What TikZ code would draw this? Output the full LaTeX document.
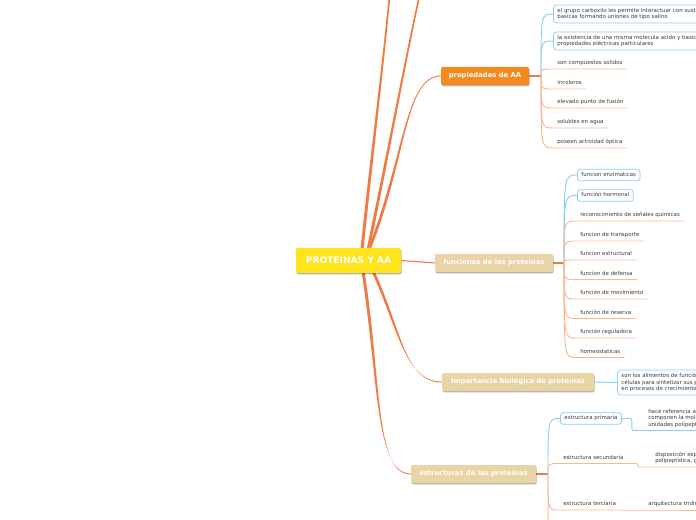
\documentclass[tikz,border=0pt]{standalone}
\usepackage{fontspec}
\setmainfont{DejaVu Sans}
\usetikzlibrary{calc,shadows}
\pgfdeclarelayer{bg}
\pgfsetlayers{bg,main}
\definecolor{yellowc}{HTML}{FFE31B}
\definecolor{orangec}{HTML}{F68A1F}
\definecolor{tanc}{HTML}{E8D4A4}
\definecolor{mainc}{HTML}{F07A42}
\definecolor{peachc}{HTML}{F9B796}
\definecolor{bluec}{HTML}{8ECDF2}
\definecolor{txtc}{HTML}{3A3A3A}
\newcommand\tapercurve[6]{\fill[mainc] ($(#1)+(#5)$) .. controls ($(#2)+(#5)$) and ($(#3)+(#6)$) .. ($(#4)+(#6)$) -- ($(#4)-(#6)$) .. controls ($(#3)-(#6)$) and ($(#2)-(#5)$) .. ($(#1)-(#5)$) -- cycle;}
\newcommand\smallfont{\fontsize{4.1}{5.1}\selectfont}
\begin{document}
\begin{tikzpicture}[x=0.75pt,y=-0.75pt,
  topic/.style={rounded corners=1pt, inner sep=0pt, text=white, font=\fontsize{5.1}{6}\selectfont\bfseries, minimum height=13.5pt, drop shadow={shadow xshift=0.4pt, shadow yshift=-1pt, opacity=0.3, fill=black}},
  leaf/.style={anchor=south west, inner xsep=3pt, inner ysep=2pt, text height=3.2pt, text depth=1pt, font=\smallfont, text=txtc},
  gleaf/.style={anchor=south west, inner xsep=3pt, inner ysep=2pt, align=left, font=\fontsize{4.1}{5}\selectfont, text=txtc},
  bbox/.style={draw=bluec, line width=0.6pt, rounded corners=2pt, fill=white, anchor=west, inner xsep=3pt, inner ysep=2.2pt, text height=3.2pt, text depth=1pt, font=\smallfont, text=txtc},
  mbox/.style={draw=bluec, line width=0.6pt, rounded corners=2.5pt, fill=white, anchor=west, inner xsep=3pt, inner ysep=0pt, align=left, font=\smallfont, text=txtc},
  fanO/.style={draw=peachc, line width=0.7pt},
  fanB/.style={draw=bluec, line width=0.7pt},
  stem/.style={draw=mainc, line width=1.2pt}]
\useasboundingbox (0,0) rectangle (696,520);
\clip (0,0) rectangle (696,520);

% main topics
\node[topic, fill=yellowc, minimum width=78.75pt, minimum height=18.75pt, font=\fontsize{6.8}{8}\selectfont\bfseries] (cen) at (348.5,260.5) {PROTEINAS Y AA};
\node[topic, fill=orangec, minimum width=66pt] (prop) at (485,76) {propiedades de AA};
\node[topic, fill=tanc, minimum width=88.5pt] (func) at (494,263) {funciones de las proteinas};
\node[topic, fill=tanc, minimum width=114pt] (imp) at (518,382) {Importancia biológica de proteínas};
\node[topic, fill=tanc, minimum width=93.75pt] (est) at (473.5,474) {estructuras de las proteinas};

% propiedades children
\node[mbox, minimum height=13.5pt] (pc1) at (553,14) {el grupo carboxilo les permite interactuar con sustancias\\basicas formando uniones de tipo salino};
\node[mbox, minimum height=13.5pt] (pc2) at (553,41) {la existencia de una misma molecula acido y basica da\\propiedades eléctricas particulares};
\node[leaf] (pc3) at (553,69) {son compuestos solidos};
\node[leaf] (pc4) at (553,89) {incoloros};
\node[leaf] (pc5) at (553,108) {elevado punto de fusión};
\node[leaf] (pc6) at (553,128) {solubles en agua};
\node[leaf] (pc7) at (553,148) {poseen actividad óptica};

% funciones children
\node[bbox] (f1) at (577,175) {funcion enzimaticas};
\node[bbox] (f2) at (577,195.5) {función hormonal};
\node[leaf] (f3) at (576,221) {reconocimiento de señales quimicas};
\node[leaf] (f4) at (576,241) {funcion de transporte};
\node[leaf] (f5) at (576,260) {funcion estructural};
\node[leaf] (f6) at (576,279.5) {funcion de defensa};
\node[leaf] (f7) at (576,299) {función de movimiento};
\node[leaf] (f8) at (576,318.5) {función de reserva};
\node[leaf] (f9) at (576,338) {función reguladora};
\node[leaf] (f10) at (576,357.5) {homeostaticas};

% importancia child
\node[mbox, minimum height=18.75pt] (i1) at (617,382.5) {son los alimentos de función plástica que usan las\\células para sintetizar sus propias proteínas\\en procesos de crecimiento y reparación};

% estructuras children
\node[bbox] (e1) at (560,418.5) {estructura primaria};
\node[leaf] (e2) at (559,463.5) {estructura secundaria};
\node[leaf] (e3) at (559,510) {estructura terciaria};
\coordinate (e4) at (566,570);
\node[gleaf] (g1) at (644,430.5) {hace referencia a la secuencia de\\componen la molécula proteica\\unidades polipeptídicas};
\node[gleaf] (g2) at (651,467) {disposición espacial que adopta la\\polipeptídica, gracias a};
\node[gleaf] (g3) at (644,510) {arquitectura tridimensional};

% off-screen children above
\coordinate (upA) at (392,-30);
\coordinate (upB) at (425,-30);

\begin{pgfonlayer}{bg}
  % main connectors
  \coordinate (sA) at ($(cen.north)+(13.5,2)$);
  \coordinate (sB) at ($(cen.north)+(19.5,2)$);
  \coordinate (sP) at ($(cen.north)+(20.5,2)$);
  \coordinate (sI) at ($(cen.south)+(24.5,-2)$);
  \coordinate (sE) at ($(cen.south)+(14.5,-2)$);
  \tapercurve{sA}{370,170}{385,50}{upA}{1.5,0}{0.8,0}
  \tapercurve{sB}{385,170}{405,60}{upB}{1.5,0}{0.8,0}
  \tapercurve{sP}{405,160}{405,76}{prop.west}{1.5,0}{0,0.5}
  \tapercurve{sI}{400,330}{405,382}{imp.west}{1.5,0}{0,0.5}
  \tapercurve{sE}{380,380}{375,474}{est.west}{1.5,0}{0,0.5}
  \draw[mainc, line width=0.8pt] (cen.east) -- (func.west);

  % propiedades fan
  \coordinate (bP) at (541,76);
  \draw[stem] (prop.east) -- (bP);
  \foreach \n in {pc1,pc2} \draw[fanB] (bP) .. controls (bP |- \n.west) .. (\n.west);
  \foreach \n in {pc3,pc4,pc5,pc6,pc7} \draw[fanO] (bP) .. controls (bP |- \n.south west) .. (\n.south west) -- (\n.south east);

  % funciones fan
  \coordinate (bF) at (564,263);
  \draw[stem] (func.east) -- (bF);
  \foreach \n in {f1,f2} \draw[fanB] (bF) .. controls (bF |- \n.west) .. (\n.west);
  \foreach \n in {f3,f4,f5,f6,f7,f8,f9,f10} \draw[fanO] (bF) .. controls (bF |- \n.south west) .. (\n.south west) -- (\n.south east);

  % importancia
  \draw[fanB] (imp.east) -- (i1.west);

  % estructuras fan
  \coordinate (bE) at (548,474);
  \draw[stem] (est.east) -- (bE);
  \draw[fanB] (bE) .. controls (bE |- e1.west) .. (e1.west);
  \foreach \n in {e2,e3} \draw[fanO] (bE) .. controls (bE |- \n.south west) .. (\n.south west) -- (\n.south east);
  \draw[fanO] (bE) .. controls (bE |- e4) .. (e4);
  \draw[fanB, rounded corners=1.5pt] (e1.east) -- ++(10,0) |- (g1.south west) -- (g1.south east);
  \draw[fanO, rounded corners=1pt] (e2.south east) -- ++(10,0) |- (g2.south west) -- (g2.south east);
  \draw[fanO] (e3.south east) -- (g3.south west) -- (g3.south east);
\end{pgfonlayer}
\end{tikzpicture}
\end{document}
